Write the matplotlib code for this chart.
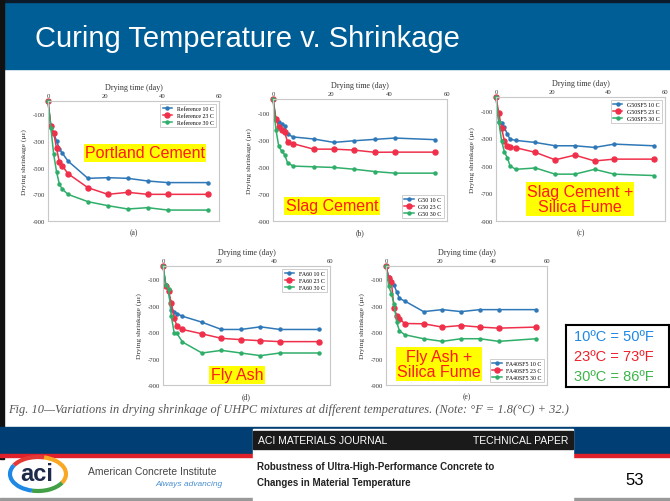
import numpy as np
import matplotlib
matplotlib.use("Agg")
import matplotlib.pyplot as plt
from matplotlib.patches import Rectangle, Arc

plt.rcParams["axes.unicode_minus"] = False

W, H = 670, 502

# ---- data ----
days = [0, 1, 2, 3, 4, 5, 7, 14, 21, 28, 35, 42, 56]

ref_10 = [0, -190, -240, -300, -360, -390, -450, -580, -575, -580, -600, -612, -612]
ref_23 = [0, -190, -240, -355, -460, -485, -545, -650, -700, -685, -700, -700, -700]
ref_30 = [0, -200, -400, -530, -625, -660, -700, -755, -785, -810, -800, -818, -818]

g50_10 = [0, -150, -170, -185, -200, -260, -280, -295, -320, -308, -298, -288, -300]
g50_23 = [0, -145, -210, -228, -245, -315, -330, -370, -370, -377, -393, -392, -392]
g50_30 = [0, -225, -350, -385, -410, -470, -495, -500, -505, -518, -535, -547, -547]

g50sf5_10 = [0, -180, -189, -221, -269, -306, -315, -330, -354, -354, -366, -342, -354]
g50sf5_23 = [0, -119, -226, -322, -354, -362, -368, -402, -456, -422, -464, -451, -451]
g50sf5_30 = [0, -180, -320, -400, -440, -500, -525, -515, -560, -560, -525, -560, -570]

fa60_10 = [0, -145, -190, -330, -345, -360, -380, -425, -480, -480, -460, -480, -480]
fa60_23 = [0, -150, -190, -280, -390, -455, -480, -513, -547, -557, -565, -572, -572]
fa60_30 = [0, -140, -175, -380, -505, -510, -575, -658, -638, -658, -678, -658, -658]

fa40sf5_10 = [0, -85, -110, -145, -195, -245, -265, -345, -330, -345, -330, -330, -330]
fa40sf5_23 = [0, -90, -120, -320, -375, -400, -435, -437, -462, -450, -462, -470, -462]
fa40sf5_30 = [0, -150, -210, -285, -425, -490, -520, -550, -570, -550, -550, -570, -550]

temps = ["10 C", "23 C", "30 C"]
x_ticks = [0, 20, 40, 60]
y_ticks = [-100, -300, -500, -700, -900]

BLUE, RED, GREEN = "#2f78b8", "#f0304a", "#2fae6a"

fig = plt.figure(figsize=(W / 100, H / 100), dpi=100)


def px_box(x0, y0, x1, y1):
    return [x0 / W, 1 - y1 / H, (x1 - x0) / W, (y1 - y0) / H]


# background layer in pixel coordinates
bg = fig.add_axes([0, 0, 1, 1])
bg.set_xlim(0, W); bg.set_ylim(H, 0); bg.axis("off")
bg.add_patch(Rectangle((0, 0), W, 70, color="#005e96"))
bg.add_patch(Rectangle((0, 0), W, 3, color="#0b1b2b"))
bg.add_patch(Rectangle((0, 0), 4, 460, color="#111111"))
bg.text(35, 47, "Curing Temperature v. Shrinkage", color="white",
        fontsize=21, family="Liberation Sans", va="baseline")

# footer
bg.add_patch(Rectangle((0, 428), W, 28, color="#003e73"))
bg.add_patch(Rectangle((0, 455), W, 3, color="#e0202a"))
bg.add_patch(Rectangle((0, 499), W, 3, color="#999999"))
bg.add_patch(Rectangle((253, 430), 320, 72, color="white"))
bg.add_patch(Rectangle((253, 432), 320, 18, color="#1a1a1a"))
bg.text(258, 441, "ACI MATERIALS JOURNAL", color="white", fontsize=7.5,
        family="Liberation Sans", va="center")
bg.text(568, 441, "TECHNICAL PAPER", color="white", fontsize=7.5,
        family="Liberation Sans", va="center", ha="right")
bg.text(257, 467, "Robustness of Ultra-High-Performance Concrete to",
        color="#222222", fontsize=7, family="Liberation Sans",
        weight="bold", va="center")
bg.text(257, 483, "Changes in Material Temperature", color="#222222",
        fontsize=7, family="Liberation Sans", weight="bold", va="center")
bg.text(625, 481, "53", fontsize=12, family="Liberation Sans", va="center")

# aci logo
for th1, th2, c in [(200, 290, "#e53935"), (290, 20, "#f9a825"),
                    (20, 110, "#43a047"), (110, 200, "#1e88e5")]:
    bg.add_patch(Arc((38, 475), 56, 34, theta1=th1, theta2=th2,
                     color=c, lw=3))
bg.text(37, 475, "aci", fontsize=17, weight="bold", color="#1d2a4a",
        family="Liberation Sans", ha="center", va="center")
bg.text(88, 472, "American Concrete Institute", fontsize=7.5,
        color="#444444", family="Liberation Sans", va="center")
bg.text(155, 485, "Always advancing", fontsize=6, color="#4a90d0",
        style="italic", family="Liberation Sans", va="center")

bg.text(8, 410, "Fig. 10\u2014Variations in drying shrinkage of UHPC mixtures at "
        "different temperatures. (Note: \u00b0F = 1.8(\u00b0C) + 32.)",
        fontsize=8.9, style="italic", family="Liberation Serif",
        color="#555555", va="center")

# ---- the five panels ----
panels = [
    ((48, 102, 219, 222), "Reference", [ref_10, ref_23, ref_30], "upper right",
     "(a)", "Portland Cement", (145, 154)),
    ((273, 100, 447, 222), "G50", [g50_10, g50_23, g50_30], "lower right",
     "(b)", "Slag Cement", (332, 207)),
    ((496, 98, 665, 222), "G50SF5", [g50sf5_10, g50sf5_23, g50sf5_30],
     "upper right", "(c)", "Slag Cement +\nSilica Fume", (580, 200)),
    ((163, 267, 330, 386), "FA60", [fa60_10, fa60_23, fa60_30], "upper right",
     "(d)", "Fly Ash", (237, 376)),
    ((386, 267, 547, 386), "FA40SF5", [fa40sf5_10, fa40sf5_23, fa40sf5_30],
     "lower right", "(e)", "Fly Ash +\nSilica Fume", (439, 365)),
]

styles = [(BLUE, "o", 2.2), (RED, "o", 3.6), (GREEN, "o", 2.2)]

for (x0, y0, x1, y1), mix, series, loc, tag, name, (nx, ny) in panels:
    ax = fig.add_axes(px_box(x0, y0, x1, y1))
    for vals, t, (c, m, ms) in zip(series, temps, styles):
        ax.plot(days, vals, color=c, marker=m, ms=ms, lw=1.1,
                label=f"{mix} {t}", clip_on=False)
    ax.set_xlim(0, 60); ax.set_ylim(-900, 0)
    ax.set_xticks(x_ticks); ax.set_yticks(y_ticks)
    ax.xaxis.tick_top(); ax.xaxis.set_label_position("top")
    ax.tick_params(length=0, labelsize=4.8, labelcolor="#333333", pad=2)
    for lab in ax.get_xticklabels() + ax.get_yticklabels():
        lab.set_family("Liberation Serif")
    for s in ax.spines.values():
        s.set_color("#c8c8c8"); s.set_linewidth(0.8)
    ax.set_xlabel("Drying time (day)", fontsize=5.8, family="Liberation Serif",
                  color="#333333", labelpad=3)
    ax.set_ylabel("Drying shrinkage (\u00b5\u03b5)", fontsize=5.3,
                  family="Liberation Serif", color="#333333", labelpad=4)
    leg = ax.legend(loc=loc, frameon=True, fancybox=False,
                    edgecolor="#aaaaaa", handlelength=1.6, borderpad=0.4,
                    labelspacing=0.3, prop={"family": "Liberation Serif",
                                            "size": 4.2})
    leg.get_frame().set_linewidth(0.5)
    bg.text((x0 + x1) / 2, y1 + 11, tag, fontsize=5.5, ha="center",
            va="center", family="Liberation Serif", color="#333333")
    bg.text(nx, ny, name, fontsize=11.5, color="#ff1a1a", ha="center",
            va="center", family="Liberation Sans", linespacing=1.05,
            zorder=10, bbox=dict(boxstyle="square,pad=0.08", fc="#ffff00",
                                 ec="none"))

# temperature key
key = fig.add_axes(px_box(566, 326, 669, 388))
key.set_xticks([]); key.set_yticks([])
for s in key.spines.values():
    s.set_linewidth(1.5); s.set_color("black")
for i, (txt, c) in enumerate([("10\u00baC = 50\u00baF", "#1e88e5"),
                              ("23\u00baC = 73\u00baF", "#f0202a"),
                              ("30\u00baC = 86\u00baF", "#3cb44b")]):
    key.text(0.08, 0.82 - i * 0.32, txt, color=c, fontsize=10.5,
             family="Liberation Sans", va="center", transform=key.transAxes)

# texts on the bg axes must sit above the panels
bg.set_zorder(5)
bg.patch.set_alpha(0)
for p in list(bg.patches):
    p.set_zorder(0)

fig.savefig("out.png", dpi=100)
